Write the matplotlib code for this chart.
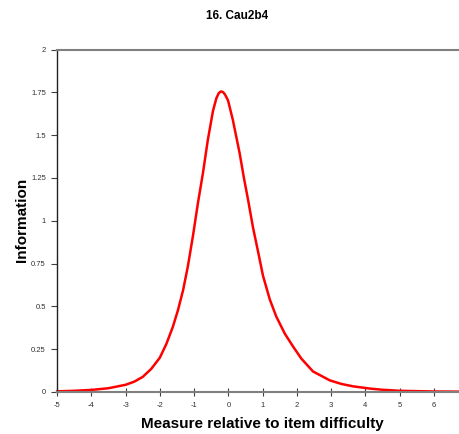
import matplotlib
matplotlib.use('Agg')
import matplotlib.pyplot as plt

# values
measure = [-5.0, -4.5, -4.0, -3.5, -3.0, -2.75, -2.5, -2.25, -2.0, -1.81,
           -1.62, -1.47, -1.32, -1.18, -1.03, -0.89, -0.74, -0.6, -0.45, -0.35,
           -0.28, -0.22, -0.16, -0.1, -0.01, 0.13, 0.33, 0.45, 0.573, 0.72,
           0.865, 1.01, 1.21, 1.4, 1.65, 1.89, 2.13, 2.47, 2.96, 3.3,
           3.64, 4.13, 4.5, 5.0, 5.5, 6.0, 6.8]
information = [0.004, 0.007, 0.012, 0.022, 0.042, 0.06, 0.088, 0.135, 0.2, 0.28,
               0.38, 0.478, 0.595, 0.735, 0.915, 1.1, 1.28, 1.47, 1.64, 1.715,
               1.745, 1.755, 1.752, 1.738, 1.703, 1.59, 1.394, 1.255, 1.125, 0.96,
               0.822, 0.68, 0.54, 0.44, 0.34, 0.265, 0.195, 0.12, 0.068, 0.047,
               0.033, 0.02, 0.013, 0.007, 0.005, 0.003, 0.002]

xticks = list(range(-5, 7))
yticks = [0, 0.25, 0.5, 0.75, 1, 1.25, 1.5, 1.75, 2]
yticklabels = ['0', '0.25', '0.5', '0.75', '1', '1.25', '1.5', '1.75', '2']

plt.rcParams['font.family'] = ['Liberation Sans', 'DejaVu Sans']

fig = plt.figure(figsize=(4.6, 4.34), dpi=100)
ax = fig.add_axes([57 / 460, 1 - 392 / 434, 1 - 57 / 460, (392 - 49.5) / 434])

ax.plot(measure, information, color='#ff0000', lw=1.8,
        solid_joinstyle='round', solid_capstyle='round', clip_on=False)

ax.set_xlim(-5, 6.76)
ax.set_ylim(0, 2)
ax.set_xticks(xticks)
ax.set_xticklabels([str(t) for t in xticks])
ax.set_yticks(yticks)
ax.set_yticklabels(yticklabels)

ax.spines['right'].set_visible(False)
ax.spines['top'].set_color('#808080')
ax.spines['top'].set_linewidth(1.5)
ax.spines['bottom'].set_color('#808080')
ax.spines['bottom'].set_linewidth(1.5)
ax.spines['left'].set_color('#202020')
ax.spines['left'].set_linewidth(1.0)

ax.tick_params(axis='x', direction='inout', length=6, width=0.8, color='#404040',
               labelsize=5.5, labelcolor='#303030', pad=4)
ax.tick_params(axis='y', direction='out', length=4, width=0.8, color='#404040',
               labelsize=5.5, labelcolor='#303030', pad=4)

fig.text(262 / 460, 1 - 424 / 434, 'Measure relative to item difficulty',
         ha='center', va='center', fontsize=11, fontweight='bold')
fig.text(22 / 460, 1 - 220 / 434, 'Information', rotation=90,
         ha='center', va='center', fontsize=11, fontweight='bold')
fig.text(237 / 460, 1 - 16 / 434, '16. Cau2b4', ha='center', va='center',
         fontsize=8.5, fontweight='bold')

fig.savefig('out.png', dpi=100)
